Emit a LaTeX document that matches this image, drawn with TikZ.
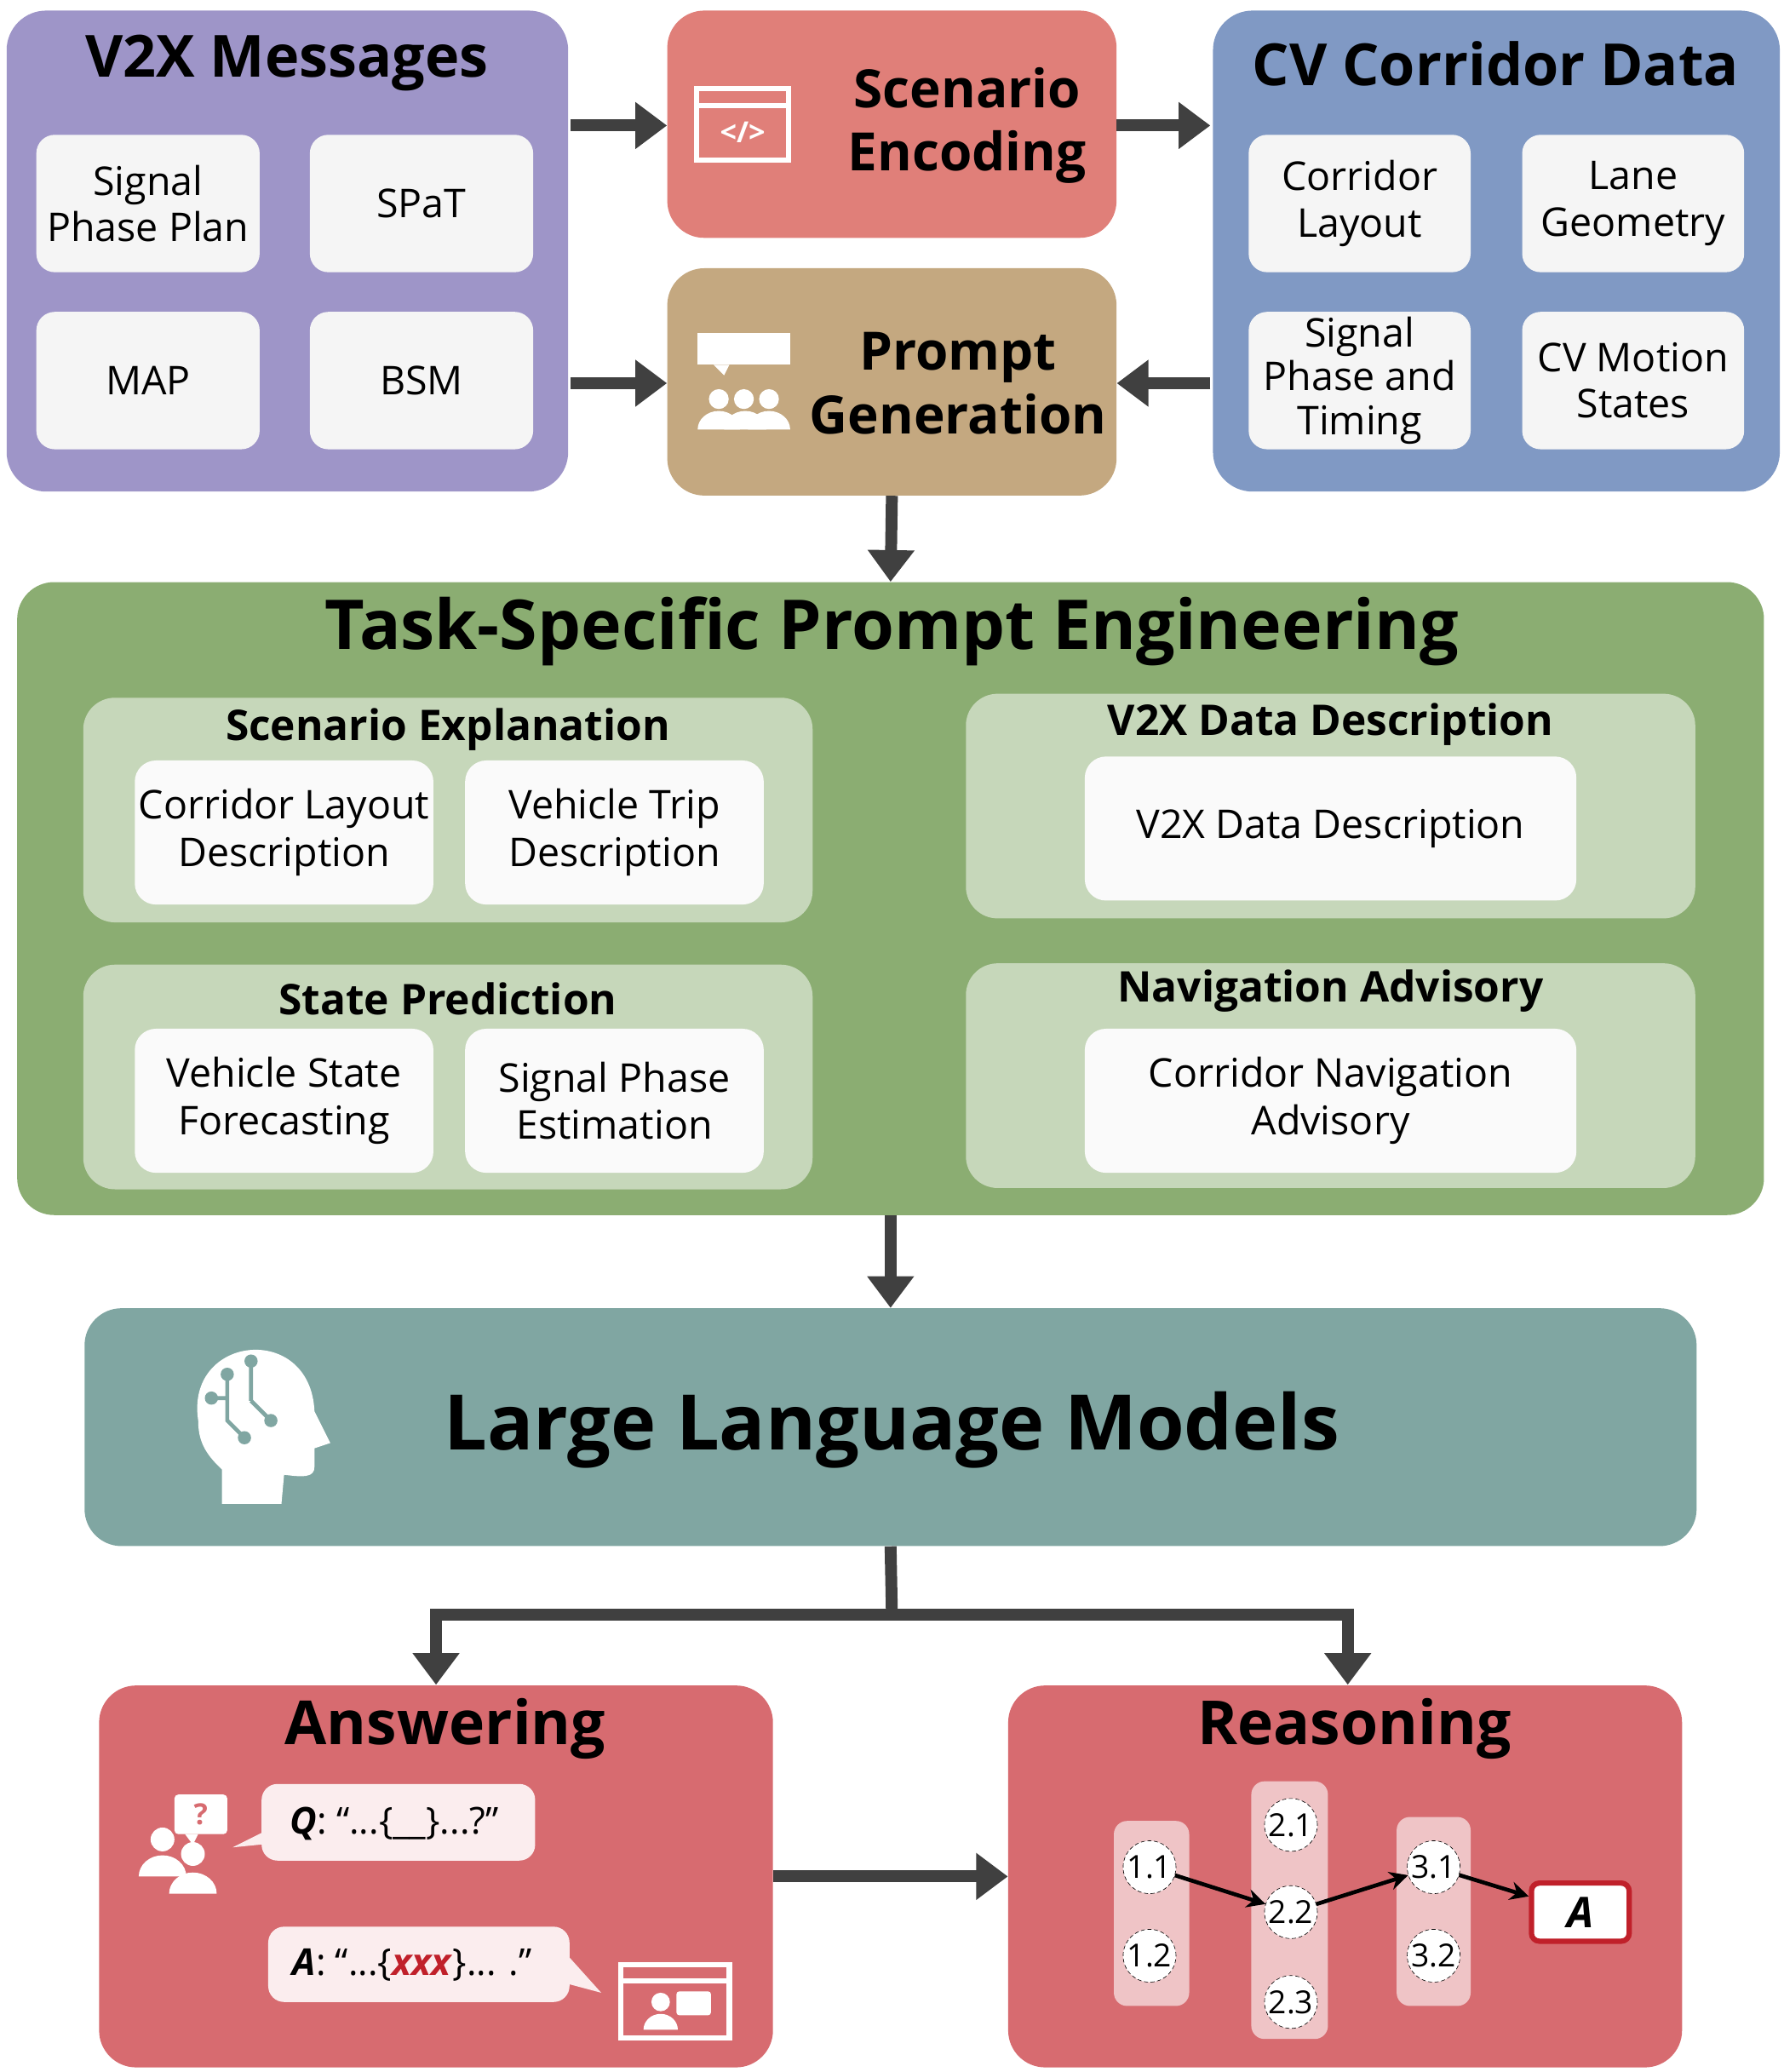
\documentclass[tikz,border=0pt]{standalone}
\usepackage{fontspec}
\setmainfont{Open Sans}
\usetikzlibrary{arrows.meta, calc}
\definecolor{v2xpurple}{HTML}{9E95C8}
\definecolor{encred}{HTML}{E07F79}
\definecolor{promptbrown}{HTML}{C4A880}
\definecolor{cvblue}{HTML}{8099C4}
\definecolor{taskgreen}{HTML}{8BAD72}
\definecolor{subgreen}{HTML}{C6D7BA}
\definecolor{llmteal}{HTML}{80A6A2}
\definecolor{outred}{HTML}{D76B70}
\definecolor{colpink}{HTML}{EFC4C6}
\definecolor{bubble}{HTML}{FBEDEE}
\definecolor{arrowgray}{HTML}{404040}
\definecolor{xxxred}{HTML}{C0202A}
\newcommand{\fs}[1]{\fontsize{#1}{\numexpr#1*6/5\relax}\selectfont}

\begin{document}
\begin{tikzpicture}[x=1pt, y=-1pt,
    bigbox/.style={rounded corners=28pt, inner sep=0pt},
    item/.style={fill=black!4, rounded corners=14pt, align=center, font=\fs{30}, inner sep=0pt},
    task/.style={fill=black!2!white, rounded corners=16pt, align=center, font=\fs{30}, inner sep=0pt},
    stage/.style={circle, draw, densely dashed, fill=white, minimum size=40pt, inner sep=0pt, font=\fs{24}},
    flow/.style={line width=9pt, arrowgray, -{Triangle[length=24pt, width=34pt]}},
    link/.style={line width=3pt, black, -{Stealth[length=14pt, width=14pt]}}]

    \useasboundingbox (0, 0) rectangle (1350, 1568);

    % top row
    \fill[v2xpurple, rounded corners=30pt] (5, 8) rectangle (430, 372);
    \node[font=\fs{44}\bfseries] at (217, 48) {V2X Messages};
    \node[item, minimum width=169pt, minimum height=104pt] (spp) at (112, 154) {Signal\\[-1pt]Phase Plan};
    \node[item, minimum width=169pt, minimum height=104pt] (spat) at (319, 154) {SPaT};
    \node[item, minimum width=169pt, minimum height=104pt] (map) at (112, 288) {MAP};
    \node[item, minimum width=169pt, minimum height=104pt] (bsm) at (319, 288) {BSM};
    \coordinate (v2xa) at (432, 95);
    \coordinate (v2xb) at (432, 290);

    \node[bigbox, fill=encred, minimum width=340pt, minimum height=172pt] (enc) at (675, 94) {};
    \node[font=\fs{40}\bfseries, align=center] at (732, 95) {Scenario\\[0pt]Encoding};
    \node[bigbox, fill=promptbrown, minimum width=340pt, minimum height=172pt] (gen) at (675, 289) {};
    \node[font=\fs{40}\bfseries, align=center] at (725, 290) {Prompt\\[0pt]Generation};

    % icons
    \draw[white, line width=4pt] (527, 67) rectangle (597, 121);
    \draw[white, line width=4pt] (527, 80) -- (597, 80);
    \node[white, font=\fs{22}\bfseries] at (562, 100) {</>};
    \fill[white] (528, 252) rectangle (598, 276);
    \fill[white] (540, 276) -- (548, 284) -- (552, 276) -- cycle;
    \foreach \i in {0,1,2} \fill[white] (563, 302) ++(\i*19-19, 0) circle (7.5pt);
    \fill[white] (528, 325) arc[start angle=180, end angle=0, x radius=16pt, y radius=14pt] -- cycle;
    \fill[white] (548, 325) arc[start angle=180, end angle=0, x radius=16pt, y radius=14pt] -- cycle;
    \fill[white] (566, 325) arc[start angle=180, end angle=0, x radius=16pt, y radius=14pt] -- cycle;

    \fill[cvblue, rounded corners=30pt] (918, 8) rectangle (1347, 372);
    \node[font=\fs{44}\bfseries] at (1132, 48) {CV Corridor Data};
    \node[item, minimum width=168pt, minimum height=104pt] (lay) at (1029, 154) {Corridor\\[-1pt]Layout};
    \node[item, minimum width=168pt, minimum height=104pt] (geo) at (1236, 154) {Lane\\[-1pt]Geometry};
    \node[item, minimum width=168pt, minimum height=104pt] (spt) at (1029, 288) {Signal\\[-3pt]Phase and\\[-3pt]Timing};
    \node[item, minimum width=168pt, minimum height=104pt] (mot) at (1236, 288) {CV Motion\\[-1pt]States};
    \coordinate (cva) at (916, 95);
    \coordinate (cvb) at (916, 290);

    \draw[flow] (v2xa) -- (enc.west |- v2xa);
    \draw[flow] (v2xb) -- (gen.west |- v2xb);
    \draw[flow] (enc.east |- cva) -- (cva);
    \draw[flow] (cvb) -- (gen.east |- cvb);

    % prompt engineering
    \node[bigbox, fill=taskgreen, minimum width=1322pt, minimum height=479pt] (pe) at (674, 680) {};
    \node[font=\fs{52}\bfseries] at (675, 478) {Task-Specific Prompt Engineering};
    \draw[flow] (gen.south) -- (pe.north);

    \fill[subgreen, rounded corners=24pt] (63, 528) rectangle (615, 698);
    \node[font=\fs{32}\bfseries] at (339, 552) {Scenario Explanation};
    \node[task, minimum width=226pt, minimum height=109pt] (cld) at (215, 630) {Corridor Layout\\[0pt]Description};
    \node[task, minimum width=226pt, minimum height=109pt] (vtd) at (465, 630) {Vehicle Trip\\[0pt]Description};

    \fill[subgreen, rounded corners=24pt] (731, 525) rectangle (1283, 695);
    \node[font=\fs{32}\bfseries] at (1007, 548) {V2X Data Description};
    \node[task, minimum width=372pt, minimum height=109pt] (vdd) at (1007, 627) {V2X Data Description};

    \fill[subgreen, rounded corners=24pt] (63, 730) rectangle (615, 900);
    \node[font=\fs{32}\bfseries] at (339, 756) {State Prediction};
    \node[task, minimum width=226pt, minimum height=109pt] (vsf) at (215, 833) {Vehicle State\\[0pt]Forecasting};
    \node[task, minimum width=226pt, minimum height=109pt] (spe) at (465, 833) {Signal Phase\\[0pt]Estimation};

    \fill[subgreen, rounded corners=24pt] (731, 729) rectangle (1283, 899);
    \node[font=\fs{32}\bfseries] at (1007, 750) {Navigation Advisory};
    \node[task, minimum width=372pt, minimum height=109pt] (cna) at (1007, 833) {Corridor Navigation\\[0pt]Advisory};

    % llm
    \node[bigbox, fill=llmteal, minimum width=1220pt, minimum height=180pt] (llm) at (674, 1080) {};
    \node[font=\fs{58}\bfseries] at (675, 1082) {Large Language Models};
    \draw[flow] (pe.south) -- (llm.north);
    \fill[white] (150, 1075) .. controls (140, 1010) and (235, 1000) .. (238, 1068)
        -- (250, 1092) -- (238, 1096) -- (238, 1110) .. controls (238, 1118) and (230, 1118) .. (215, 1116)
        -- (213, 1138) -- (168, 1138) -- (168, 1112) .. controls (155, 1100) and (150, 1090) .. (150, 1075) -- cycle;
    \draw[llmteal, line width=3pt] (172, 1040) -- (172, 1075) -- (185, 1088)
        (190, 1030) -- (190, 1060) (172, 1058) -- (160, 1058) (190, 1060) -- (205, 1075);
    \foreach \p in {(172, 1040), (190, 1030), (160, 1058), (205, 1075), (185, 1088)}
        \fill[llmteal] \p circle (5pt);

    % outputs
    \node[bigbox, fill=outred, minimum width=510pt, minimum height=289pt] (ans) at (330, 1420) {};
    \node[font=\fs{46}\bfseries] at (337, 1308) {Answering};
    \node[bigbox, fill=outred, minimum width=510pt, minimum height=289pt] (rea) at (1018, 1420) {};
    \node[font=\fs{46}\bfseries] at (1025, 1308) {Reasoning};
    \coordinate (split) at (675, 1222);
    \draw[line width=9pt, arrowgray] (llm.south) -- (split);
    \draw[flow] ($(split)+(4.5,0)$) -| (330, 1275);
    \draw[flow] ($(split)-(4.5,0)$) -| (1020, 1275);
    \draw[flow] (ans.east) -- (rea.west);

    % answering content
    \fill[bubble, rounded corners=12pt] (198, 1350) rectangle (405, 1408);
    \fill[bubble] (202, 1385) -- (176, 1398) -- (206, 1395) -- cycle;
    \node[font=\fs{28}, anchor=west] (q) at (216, 1380) {\textbf{\textit{Q}}: “...\{\_\_\}...?”};
    \fill[bubble, rounded corners=12pt] (203, 1458) rectangle (431, 1515);
    \fill[bubble] (428, 1478) -- (455, 1508) -- (425, 1500) -- cycle;
    \node[font=\fs{28}, anchor=west] (a) at (218, 1487) {\textbf{\textit{A}}: “...\{\textcolor{xxxred}{\textbf{\textit{xxx}}}\}... .”};
    \fill[white, rounded corners=3pt] (132, 1358) rectangle (172, 1388);
    \fill[white] (140, 1388) -- (146, 1396) -- (150, 1388) -- cycle;
    \node[outred, font=\fs{22}\bfseries] at (152, 1373) {?};
    \fill[white] (123, 1392) circle (9pt) (146, 1403) circle (9pt);
    \fill[white] (105, 1420) arc[start angle=180, end angle=0, x radius=18pt, y radius=16pt] -- cycle;
    \fill[white] (128, 1433) arc[start angle=180, end angle=0, x radius=18pt, y radius=16pt] -- cycle;
    \draw[white, line width=4pt] (470, 1487) rectangle (552, 1542);
    \draw[white, line width=4pt] (470, 1499) -- (552, 1499);
    \fill[white] (500, 1515) circle (7pt);
    \fill[white] (487, 1536) arc[start angle=180, end angle=0, x radius=13pt, y radius=12pt] -- cycle;
    \fill[white, rounded corners=2pt] (512, 1507) rectangle (538, 1525);

    % reasoning content
    \fill[colpink, rounded corners=10pt] (843, 1378) rectangle (900, 1518);
    \fill[colpink, rounded corners=10pt] (947, 1348) rectangle (1005, 1543);
    \fill[colpink, rounded corners=10pt] (1057, 1375) rectangle (1113, 1518);
    \node[stage] (s11) at (870, 1413) {1.1};
    \node[stage] (s12) at (870, 1480) {1.2};
    \node[stage] (s21) at (977, 1381) {2.1};
    \node[stage] (s22) at (977, 1447) {2.2};
    \node[stage] (s23) at (977, 1515) {2.3};
    \node[stage] (s31) at (1085, 1413) {3.1};
    \node[stage] (s32) at (1085, 1480) {3.2};
    \node[draw=xxxred, line width=4pt, fill=white, rounded corners=6pt, minimum width=74pt, minimum height=44pt, font=\fs{32}\bfseries\itshape] (ansA) at (1196, 1447) {A};
    \draw[link] (s11) -- (s22);
    \draw[link] (s22) -- (s31);
    \draw[link] (s31) -- (ansA);

\end{tikzpicture}
\end{document}
